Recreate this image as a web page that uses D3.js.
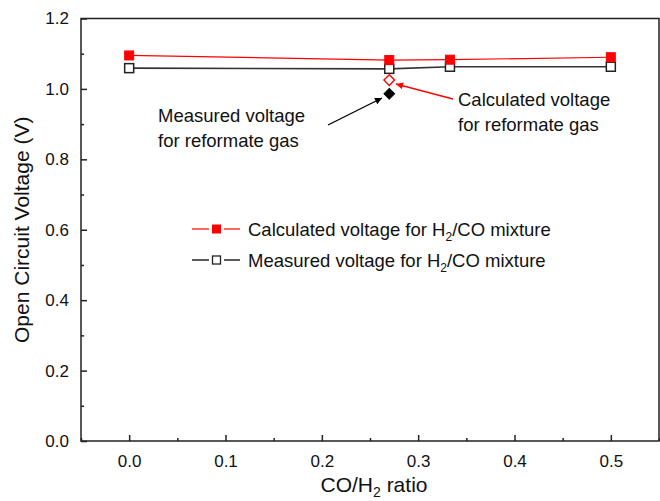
<!DOCTYPE html>
<html>
<head>
<meta charset="utf-8">
<script src="https://cdn.jsdelivr.net/npm/d3@7"></script>
<style>
  html, body { margin: 0; padding: 0; background: #fff; }
  svg { display: block; font-family: Arial, "Liberation Sans", sans-serif; }
</style>
</head>
<body>
<svg id="chart" width="660" height="501"></svg>
<script>
// CO/H2 ratios tested
const ratios = [0.0, 0.27, 0.333, 0.5];
// Open circuit voltage (V) for H2/CO mixtures
const calculatedMix = [1.095, 1.082, 1.083, 1.090];
const measuredMix = [1.059, 1.057, 1.063, 1.063];
// Reformate gas at CO/H2 = 0.27
const reformateRatio = 0.27;
const calculatedReformate = 1.025;
const measuredReformate = 0.986;

const xTicks = [0.0, 0.1, 0.2, 0.3, 0.4, 0.5];
const xMinor = [-0.05, 0.05, 0.15, 0.25, 0.35, 0.45, 0.55];
const yTicks = [0.0, 0.2, 0.4, 0.6, 0.8, 1.0, 1.2];
const yMinor = [0.1, 0.3, 0.5, 0.7, 0.9, 1.1];

const RED = "#ff0000";
const DARK = "#222";

const svg = d3.select("#chart");
const plotL = 81, plotR = 659, plotT = 18.5, plotB = 441;

const x = d3.scaleLinear().domain([-0.05, 0.55]).range([plotL, plotR]);
const y = d3.scaleLinear().domain([0, 1.2]).range([plotB, plotT]);

// frame
svg.append("rect")
  .attr("x", plotL).attr("y", plotT)
  .attr("width", plotR - plotL).attr("height", plotB - plotT)
  .attr("fill", "none").attr("stroke", DARK).attr("stroke-width", 1.5);

// axes with inward ticks
const xAxis = svg.append("g").attr("transform", `translate(0,${plotB})`)
  .call(d3.axisBottom(x).tickValues(xTicks).tickFormat(d3.format(".1f"))
    .tickSizeInner(-6).tickSizeOuter(0).tickPadding(14));
xAxis.select(".domain").remove();
xAxis.selectAll("line").attr("stroke", DARK).attr("stroke-width", 1.5);
xAxis.selectAll("text").attr("font-size", 17).attr("fill", "#111");

const xAxisMinor = svg.append("g").attr("transform", `translate(0,${plotB})`)
  .call(d3.axisBottom(x).tickValues(xMinor).tickFormat("").tickSizeInner(-3).tickSizeOuter(0));
xAxisMinor.select(".domain").remove();
xAxisMinor.selectAll("line").attr("stroke", DARK).attr("stroke-width", 1.5);

const yAxis = svg.append("g").attr("transform", `translate(${plotL},0)`)
  .call(d3.axisLeft(y).tickValues(yTicks).tickFormat(d3.format(".1f"))
    .tickSizeInner(-6).tickSizeOuter(0).tickPadding(12));
yAxis.select(".domain").remove();
yAxis.selectAll("line").attr("stroke", DARK).attr("stroke-width", 1.5);
yAxis.selectAll("text").attr("font-size", 17).attr("fill", "#111");

const yAxisMinor = svg.append("g").attr("transform", `translate(${plotL},0)`)
  .call(d3.axisLeft(y).tickValues(yMinor).tickFormat("").tickSizeInner(-3).tickSizeOuter(0));
yAxisMinor.select(".domain").remove();
yAxisMinor.selectAll("line").attr("stroke", DARK).attr("stroke-width", 1.5);

// axis titles
const xt = svg.append("text")
  .attr("x", 374).attr("y", 492)
  .attr("text-anchor", "middle").attr("font-size", 21).attr("fill", "#111");
xt.append("tspan").text("CO/H");
xt.append("tspan").attr("font-size", 14).attr("dy", 5).text("2");
xt.append("tspan").attr("dy", -5).text(" ratio");

svg.append("text")
  .attr("transform", `translate(29,${(plotT + plotB) / 2}) rotate(-90)`)
  .attr("text-anchor", "middle").attr("font-size", 21).attr("fill", "#111")
  .text("Open Circuit Voltage (V)");

// series lines
const line = d3.line().x((d, i) => x(ratios[i])).y(d => y(d));

svg.append("path").datum(measuredMix)
  .attr("d", line).attr("fill", "none").attr("stroke", "#333").attr("stroke-width", 1.6);
svg.append("path").datum(calculatedMix)
  .attr("d", line).attr("fill", "none").attr("stroke", RED).attr("stroke-width", 1.2);

const sq = 9;
svg.selectAll(".m-mix").data(measuredMix).enter().append("rect")
  .attr("x", (d, i) => x(ratios[i]) - sq / 2).attr("y", d => y(d) - sq / 2)
  .attr("width", sq).attr("height", sq)
  .attr("fill", "#fff").attr("stroke", "#222").attr("stroke-width", 1.5);
svg.selectAll(".c-mix").data(calculatedMix).enter().append("rect")
  .attr("x", (d, i) => x(ratios[i]) - sq / 2).attr("y", d => y(d) - sq / 2)
  .attr("width", sq).attr("height", sq)
  .attr("fill", RED).attr("stroke", RED).attr("stroke-width", 1);

// reformate gas diamonds
const diamondPath = d3.symbol().type(d3.symbolSquare).size(56)();
svg.append("path").attr("d", diamondPath)
  .attr("transform", `translate(${x(reformateRatio)},${y(calculatedReformate)}) rotate(45)`)
  .attr("fill", "#fff").attr("stroke", RED).attr("stroke-width", 1.4);
svg.append("path").attr("d", diamondPath)
  .attr("transform", `translate(${x(reformateRatio)},${y(measuredReformate)}) rotate(45)`)
  .attr("fill", "#000").attr("stroke", "#000").attr("stroke-width", 1);

// arrowheads
const defs = svg.append("defs");
function arrowHead(id, color) {
  defs.append("marker").attr("id", id)
    .attr("viewBox", "0 0 10 10").attr("refX", 10).attr("refY", 5)
    .attr("markerWidth", 11).attr("markerHeight", 7)
    .attr("markerUnits", "userSpaceOnUse").attr("orient", "auto")
    .append("path").attr("d", "M0,0 L10,5 L0,10 z").attr("fill", color);
}
arrowHead("ah-red", RED);
arrowHead("ah-black", "#000");

svg.append("line")
  .attr("x1", 453).attr("y1", 99).attr("x2", 396).attr("y2", 84)
  .attr("stroke", RED).attr("stroke-width", 1.3).attr("marker-end", "url(#ah-red)");
svg.append("line")
  .attr("x1", 328).attr("y1", 125).attr("x2", 382).attr("y2", 98)
  .attr("stroke", "#000").attr("stroke-width", 1.3).attr("marker-end", "url(#ah-black)");

// annotations
function label(xp, yp, lines) {
  const t = svg.append("text").attr("font-size", 18.5).attr("fill", "#111");
  lines.forEach((s, i) => t.append("tspan").attr("x", xp).attr("y", yp + i * 25).text(s));
}
label(458, 106, ["Calculated voltage", "for reformate gas"]);
label(158, 122, ["Measured voltage", "for reformate gas"]);

// legend: short line segments either side of the marker
const legendItems = [
  { name: "Calculated voltage for H", stroke: RED, fill: RED, lw: 1.2, yPos: 229 },
  { name: "Measured voltage for H", stroke: "#222", fill: "#fff", lw: 1.5, yPos: 260 }
];
legendItems.forEach(d => {
  const g = svg.append("g");
  [[192, 209], [224, 240]].forEach(([a, b]) =>
    g.append("line").attr("x1", a).attr("x2", b).attr("y1", d.yPos).attr("y2", d.yPos)
      .attr("stroke", d.stroke).attr("stroke-width", d.lw));
  g.append("rect").attr("x", 216.5 - 4).attr("y", d.yPos - 4).attr("width", 8).attr("height", 8)
    .attr("fill", d.fill).attr("stroke", d.stroke).attr("stroke-width", d.fill === RED ? 1 : 1.3);
  const t = g.append("text").attr("x", 248).attr("y", d.yPos + 6.5)
    .attr("font-size", 18.5).attr("fill", "#111");
  t.append("tspan").text(d.name);
  t.append("tspan").attr("font-size", 12).attr("dy", 5).text("2");
  t.append("tspan").attr("dy", -5).text("/CO mixture");
});
</script>
</body>
</html>
